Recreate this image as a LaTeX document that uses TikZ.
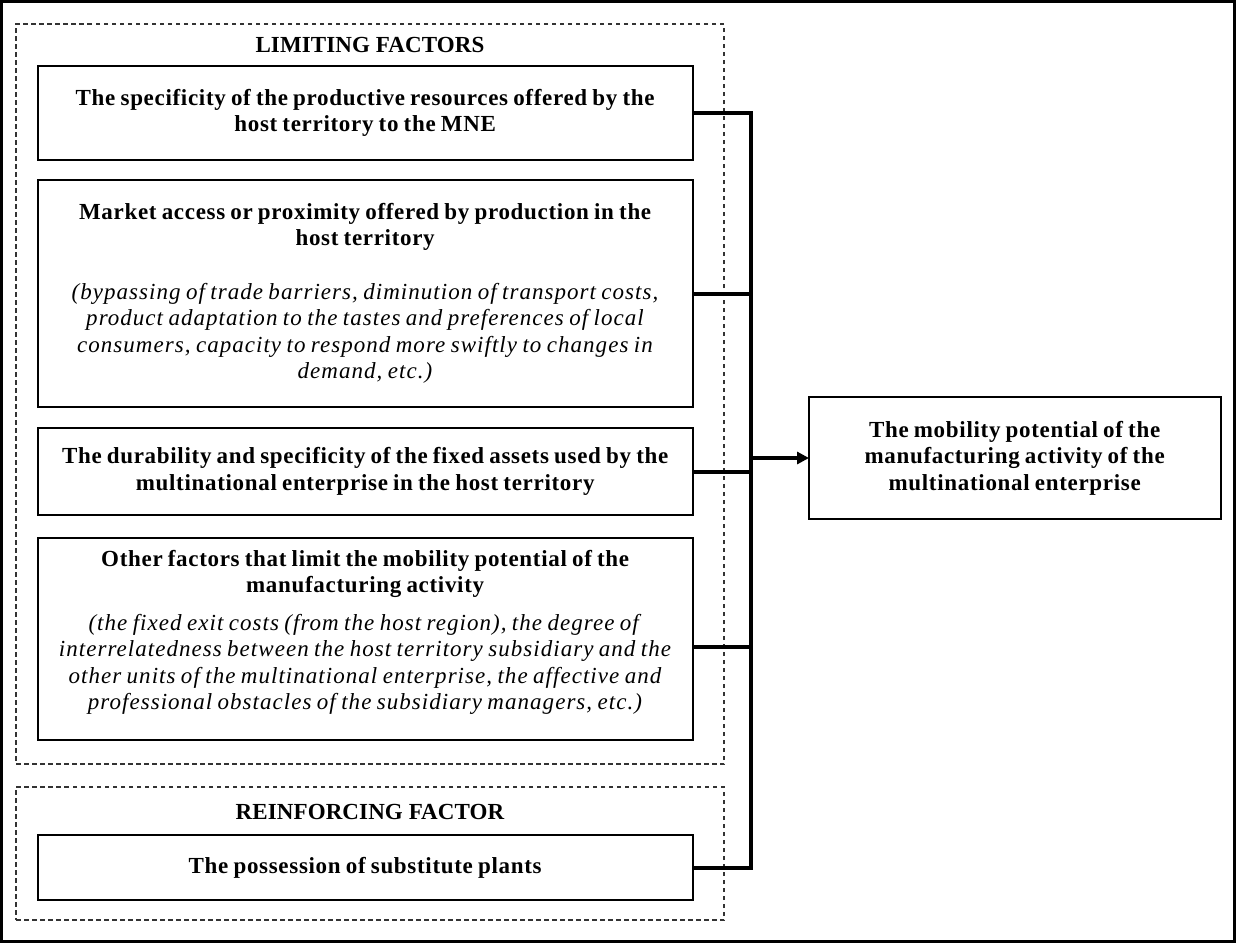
\documentclass[tikz,border=0pt]{standalone}
\usepackage{fontspec}
\setmainfont{Liberation Serif}[LetterSpace=3,WordSpace=0.8,ItalicFeatures={LetterSpace=4.5,WordSpace=0.8}]
\newfontfamily\headfont{Liberation Serif}[LetterSpace=0.5]
\usetikzlibrary{arrows.meta,calc}
\begin{document}
\begin{tikzpicture}[x=1pt,y=-1pt,
  every node/.style={inner sep=0pt,outer sep=0pt,align=center,font=\fontsize{23}{26.5}\selectfont},
  factor/.style={draw=black,line width=1.3pt,minimum width=655pt},
  group/.style={draw=black!80,line width=1.2pt,dash pattern=on 4.5pt off 3.5pt,minimum width=708pt},
  heading/.style={font=\fontsize{23}{26.5}\selectfont\headfont\bfseries},
  conn/.style={line width=4pt},
  outcome/.style={draw=black,line width=1.3pt,minimum width=412pt,minimum height=122pt}]
\useasboundingbox (0,0) rectangle (1236,943);
\draw[line width=3pt] (1.5,1.5) rectangle (1234.5,941.5);
% groups
\node[group,minimum height=740pt] (glim) at (370,394) {};
\node[group,minimum height=133pt] (grei) at (370,853.5) {};
\node[heading] (tlim) at (370,45) {LIMITING FACTORS};
\node[heading] (trei) at (370,812) {REINFORCING FACTOR};
% factor boxes
\node[factor,minimum height=94pt] (b1) at (365.5,113) {\textbf{The specificity of the productive resources offered by the}\\\textbf{host territory to the MNE}};
\node[factor,minimum height=227pt] (b2) at (365.5,293.5) {\textbf{Market access or proximity offered by production in the}\\\textbf{host territory}\\[27pt]\textit{(bypassing of trade barriers, diminution of transport costs,}\\\textit{product adaptation to the tastes and preferences of local}\\\textit{consumers, capacity to respond more swiftly to changes in}\\\textit{demand, etc.)}};
\node[factor,minimum height=87pt] (b3) at (365.5,471.5) {\textbf{The durability and specificity of the fixed assets used by the}\\\textbf{multinational enterprise in the host territory}};
\node[factor,minimum height=202pt] (b4) at (365.5,639) {};
\node[anchor=north,yshift=-12pt] (b4t) at (b4.north) {\textbf{Other factors that limit the mobility potential of the}\\\textbf{manufacturing activity}\\[11pt]\textit{(the fixed exit costs (from the host region), the degree of}\\\textit{interrelatedness between the host territory subsidiary and the}\\\textit{other units of the multinational enterprise, the affective and}\\\textit{professional obstacles of the subsidiary managers, etc.)}};
\node[factor,minimum height=65pt] (b5) at (365.5,867.5) {\textbf{The possession of substitute plants}};
% outcome
\node[outcome] (out) at (1015,458) {\textbf{The mobility potential of the}\\\textbf{manufacturing activity of the}\\\textbf{multinational enterprise}};
% connectors
\coordinate (trunk) at (751,0);
\coordinate (b4c) at ($(b4.east)+(0,8)$);
\draw[conn] (b1.east) -- (b1.east -| trunk) -- (b5.east -| trunk) -- (b5.east);
\draw[conn] (b2.east) -- (b2.east -| trunk);
\draw[conn] (b3.east) -- (b3.east -| trunk);
\draw[conn] (b4c) -- (b4c -| trunk);
\draw[conn,-{Triangle[length=12pt,width=12pt]}] (out.west -| trunk) -- (out.west);
\end{tikzpicture}
\end{document}
